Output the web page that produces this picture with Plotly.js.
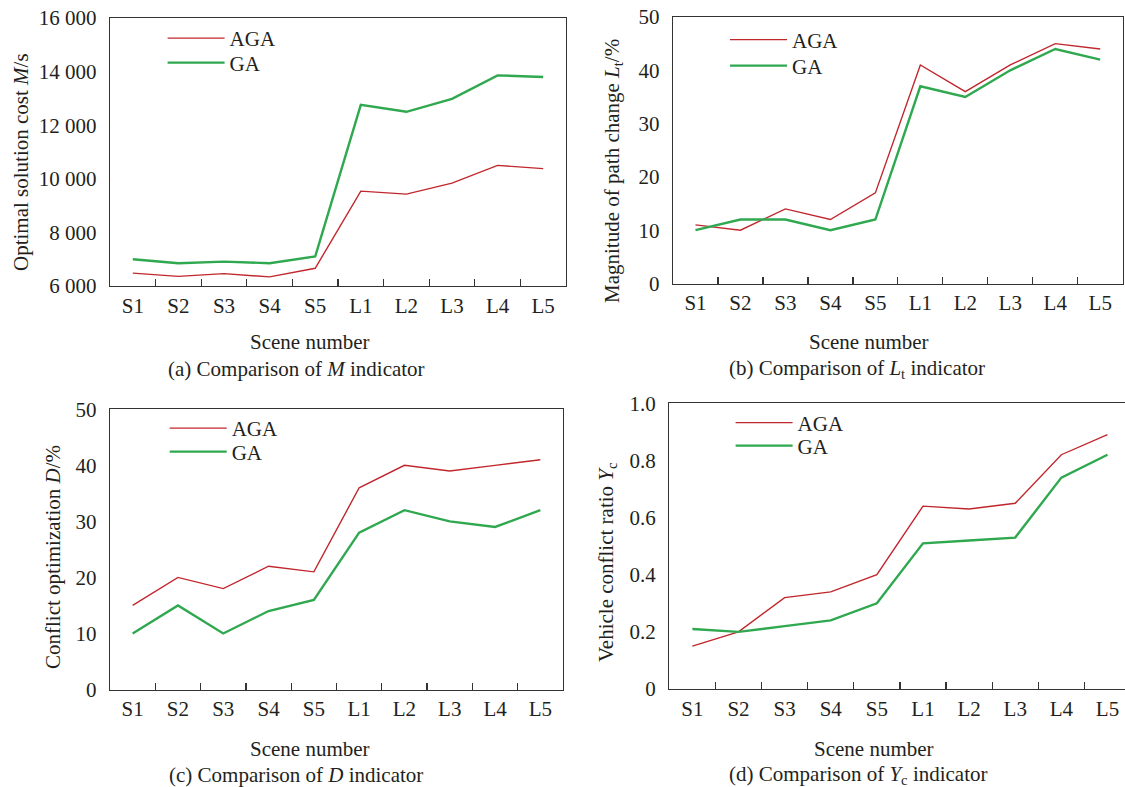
<!DOCTYPE html>
<html>
<head>
<meta charset="utf-8">
<script src="https://cdn.plot.ly/plotly-3.0.1.min.js"></script>
<style>html,body{margin:0;padding:0;background:#fff;}#chart{width:1125px;height:787px;}</style>
</head>
<body>
<div id="chart"></div>
<script>
// ---------- data ----------
const scenes = ["S1","S2","S3","S4","S5","L1","L2","L3","L4","L5"];

const costAGA = [6480, 6360, 6460, 6340, 6660, 9540, 9430, 9840, 10500, 10380];
const costGA  = [7000, 6850, 6910, 6850, 7100, 12760, 12500, 12980, 13860, 13800];

const pathAGA = [11, 10, 14, 12, 17, 41, 36, 41, 45, 44];
const pathGA  = [10, 12, 12, 10, 12, 37, 35, 40, 44, 42];

const conflictAGA = [15, 20, 18, 22, 21, 36, 40, 39, 40, 41];
const conflictGA  = [10, 15, 10, 14, 16, 28, 32, 30, 29, 32];

const ratioAGA = [0.15, 0.20, 0.32, 0.34, 0.40, 0.64, 0.63, 0.65, 0.82, 0.89];
const ratioGA  = [0.21, 0.20, 0.22, 0.24, 0.30, 0.51, 0.52, 0.53, 0.74, 0.82];

const costTicks = [6000, 8000, 10000, 12000, 14000, 16000];
const costTickText = ["6 000", "8 000", "10 000", "12 000", "14 000", "16 000"];
const pctTicks = [0, 10, 20, 30, 40, 50];
const pctTickText = ["0", "10", "20", "30", "40", "50"];
const ratioTicks = [0, 0.2, 0.4, 0.6, 0.8, 1.0];
const ratioTickText = ["0", "0.2", "0.4", "0.6", "0.8", "1.0"];

// ---------- style ----------
const FONT = "Liberation Serif, Times New Roman, serif";
const TXT = "#231f20";
const RED = "#c0272d";
const GREEN = "#2fa84f";
const W = 1125, H = 787;
const px = v => v / W;
const py = v => 1 - v / H;

function pair(yA, yG, n, lgA, lgG) {
  const sfx = n === 1 ? "" : String(n);
  return [
    {x: scenes, y: yA, name: "AGA", type: "scatter", mode: "lines",
     line: {color: RED, width: 1.4}, xaxis: "x" + sfx, yaxis: "y" + sfx, legend: lgA},
    {x: scenes, y: yG, name: "GA", type: "scatter", mode: "lines",
     line: {color: GREEN, width: 2.4}, xaxis: "x" + sfx, yaxis: "y" + sfx, legend: lgG}
  ];
}

const data = [
  ...pair(costAGA, costGA, 1, "legend", "legend2"),
  ...pair(pathAGA, pathGA, 2, "legend3", "legend4"),
  ...pair(conflictAGA, conflictGA, 3, "legend5", "legend6"),
  ...pair(ratioAGA, ratioGA, 4, "legend7", "legend8")
];

function xax(d0, d1, rmax, anchor) {
  return {
    domain: [d0, d1], anchor: anchor, type: "category",
    categoryorder: "array", categoryarray: scenes,
    range: [-0.5, rmax], tickson: "boundaries", ticks: "inside", ticklen: 7,
    tickwidth: 1.3, tickcolor: "#333",
    showline: true, mirror: true, linecolor: "#333", linewidth: 1.4,
    showgrid: false, zeroline: false, fixedrange: true,
    tickfont: {family: FONT, size: 21, color: TXT}
  };
}
function yax(d0, d1, range, tv, tt, anchor) {
  return {
    domain: [d0, d1], anchor: anchor, range: range,
    tickmode: "array", tickvals: tv, ticktext: tt, ticks: "",
    showline: true, mirror: true, linecolor: "#333", linewidth: 1.4,
    showgrid: false, zeroline: false, fixedrange: true, ticklabelstandoff: 8,
    tickfont: {family: FONT, size: 21, color: TXT}
  };
}
const LEG_OFF = 21.5; // legend top -> first row centre
function leg(xLine, yCentre) {
  return {x: px(xLine - 6), y: py(yCentre - LEG_OFF), xanchor: "left", yanchor: "top",
          bgcolor: "rgba(0,0,0,0)", borderwidth: 0,
          font: {family: FONT, size: 21, color: TXT}, itemwidth: 57};
}

const ann = [];
function txt(text, x, y, angle) {
  ann.push({text: text, x: px(x), y: py(y), xref: "paper", yref: "paper",
            xanchor: "center", yanchor: "middle", showarrow: false,
            textangle: angle || 0, font: {family: FONT, size: 21, color: TXT}});
}
// x titles and captions
txt("Scene number", 310, 342);
txt("(a) Comparison of <i>M</i> indicator", 296, 369);
txt("Scene number", 869, 342);
txt("(b) Comparison of <i>L</i><sub>t</sub> indicator", 857, 369);
txt("Scene number", 310, 749);
txt("(c) Comparison of <i>D</i> indicator", 296, 775);
txt("Scene number", 874, 749);
txt("(d) Comparison of <i>Y</i><sub>c</sub> indicator", 858, 775);
// y titles
txt("Optimal solution cost <i>M</i>/s", 21, 162, -90);
txt("Magnitude of path change <i>L</i><sub>t</sub>/%", 613, 171, -90);
txt("Conflict optimization <i>D</i>/%", 53, 557, -90);
txt("Vehicle conflict ratio <i>Y</i><sub>c</sub>", 607, 562, -90);

const layout = {
  width: W, height: H,
  margin: {l: 0, r: 0, t: 0, b: 0},
  paper_bgcolor: "#fff", plot_bgcolor: "#fff",
  font: {family: FONT, size: 21, color: TXT},
  showlegend: true,
  xaxis:  xax(px(110), px(566), 9.5, "y"),
  yaxis:  yax(py(286), py(18), [6000, 16000], costTicks, costTickText, "x"),
  xaxis2: xax(px(673), px(1122.7), 9.5, "y2"),
  yaxis2: yax(py(283.5), py(17), [0, 50], pctTicks, pctTickText, "x2"),
  xaxis3: xax(px(110), px(563), 9.5, "y3"),
  yaxis3: yax(py(689.5), py(409.3), [0, 50], pctTicks, pctTickText, "x3"),
  xaxis4: xax(px(669.3), 1, 9.38, "y4"),
  yaxis4: yax(py(689), py(403.3), [0, 1], ratioTicks, ratioTickText, "x4"),
  legend:  leg(168.6, 39.5),
  legend2: leg(168.6, 64),
  legend3: leg(731, 41),
  legend4: leg(731, 67),
  legend5: leg(170.7, 429.5),
  legend6: leg(170.7, 453),
  legend7: leg(736.6, 424),
  legend8: leg(736.6, 447),
  annotations: ann
};

Plotly.newPlot("chart", data, layout, {displayModeBar: false, staticPlot: true}).then(function (gd) {
  // lengthen the legend line samples to match the reference's longer keys
  gd.querySelectorAll("path.js-line").forEach(function (p) {
    if (p.closest("[class*='legend']")) p.setAttribute("d", "M5,0h57");
  });
  // drop empty placeholder text nodes (unused axis titles)
  gd.querySelectorAll("svg text").forEach(function (t) {
    if (!t.textContent || !t.textContent.trim()) t.remove();
  });
});
</script>
</body>
</html>
